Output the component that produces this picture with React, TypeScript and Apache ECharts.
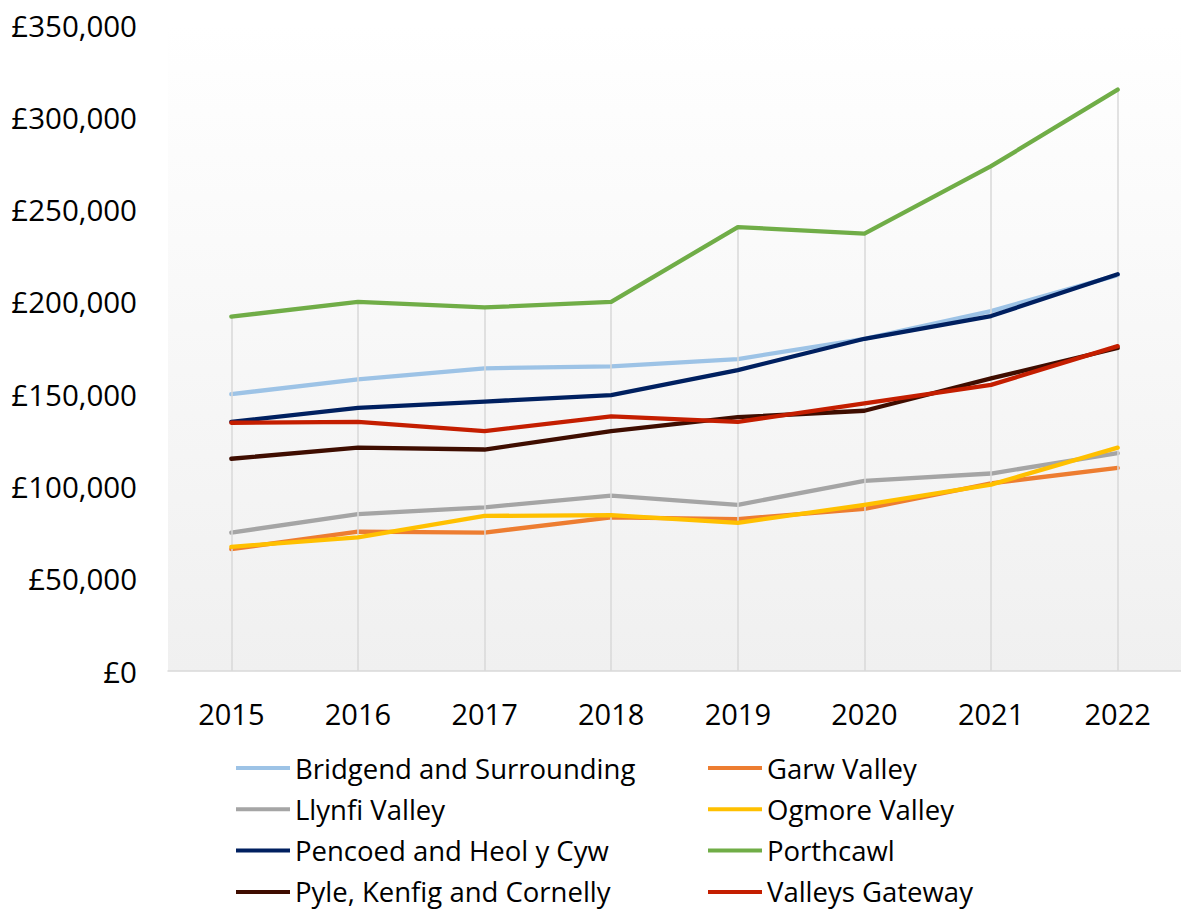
import React, { useEffect, useRef } from "react";
import * as echarts from "echarts";

const years = ["2015", "2016", "2017", "2018", "2019", "2020", "2021", "2022"];

const bridgend = [150000, 158000, 164000, 165000, 169000, 180000, 195000, 214500];
const garw = [66000, 75500, 75000, 83200, 82300, 87800, 101700, 110000];
const llynfi = [75000, 85000, 88700, 95000, 90000, 103000, 107000, 118000];
const ogmore = [67300, 72400, 84000, 84500, 80300, 90000, 101000, 121000];
const pencoed = [135000, 142600, 146000, 149500, 163000, 180000, 192300, 215000];
const porthcawl = [192000, 200000, 197000, 200000, 240500, 237000, 273500, 315000];
const pyle = [115000, 121000, 120000, 130000, 137500, 141000, 158500, 175000];
const valleys = [134500, 135000, 130000, 138000, 135000, 145000, 155000, 176000];

const seriesNames = [
  "Bridgend and Surrounding",
  "Garw Valley",
  "Llynfi Valley",
  "Ogmore Valley",
  "Pencoed and Heol y Cyw",
  "Porthcawl",
  "Pyle, Kenfig and Cornelly",
  "Valleys Gateway",
];
const seriesData = [bridgend, garw, llynfi, ogmore, pencoed, porthcawl, pyle, valleys];
const seriesColors = ["#9dc3e6", "#ed7d31", "#a5a5a5", "#ffc000", "#002060", "#70ad47", "#3f0d00", "#c41e00"];

const legendLeft = [seriesNames[0], seriesNames[2], seriesNames[4], seriesNames[6]];
const legendRight = [seriesNames[1], seriesNames[3], seriesNames[5], seriesNames[7]];

const FONT = "Open Sans";

function fmt(v: number): string {
  return "£" + String(v).replace(/\B(?=(\d{3})+(?!\d))/g, ",");
}

export default function App() {
  const ref = useRef<HTMLDivElement>(null);
  useEffect(() => {
    if (!ref.current) return;
    const chart = echarts.init(ref.current, null, { renderer: "svg" });
    const legendText = { fontFamily: FONT, fontSize: 27.5, color: "#000", lineHeight: 28 };
    const legendBase = {
      orient: "vertical",
      top: 754,
      height: 160,
      padding: 0,
      icon: "rect",
      itemWidth: 54,
      itemHeight: 4,
      itemGap: 13.3,
      textStyle: legendText,
    };
    const option: any = {
      animation: false,
      backgroundColor: "#ffffff",
      grid: {
        left: 168,
        right: -2,
        top: 25,
        bottom: 239,
        show: true,
        borderWidth: 0,
        backgroundColor: new echarts.graphic.LinearGradient(0, 0, 0, 1, [
          { offset: 0, color: "#ffffff" },
          { offset: 1, color: "#f0f0f0" },
        ]),
      },
      legend: [
        { ...legendBase, left: 236, data: legendLeft },
        { ...legendBase, left: 708, data: legendRight },
      ],
      xAxis: {
        type: "category",
        data: years,
        boundaryGap: true,
        axisLine: { show: true, lineStyle: { color: "#d9d9d9", width: 1.5 } },
        axisTick: { show: false },
        splitLine: { show: false },
        axisLabel: { color: "#000", fontFamily: FONT, fontSize: 29, margin: 28 },
      },
      yAxis: {
        type: "value",
        min: 0,
        max: 350000,
        interval: 50000,
        axisLine: { show: false },
        axisTick: { show: false },
        splitLine: { show: false },
        axisLabel: {
          color: "#000",
          fontFamily: FONT,
          fontSize: 29.5,
          margin: 31,
          formatter: (v: number) => fmt(v),
        },
      },
      series: [
        {
          name: "_drop",
          type: "line",
          data: porthcawl,
          symbol: "none",
          lineStyle: { opacity: 0 },
          silent: true,
          z: 1,
          markLine: {
            silent: true,
            symbol: ["none", "none"],
            label: { show: false },
            lineStyle: { color: "#d9d9d9", type: "solid", width: 1.5 },
            data: porthcawl.map((v, i) => [
              { coord: [years[i], v] },
              { coord: [years[i], 0] },
            ]),
          },
        },
        ...seriesNames.map((n, i) => ({
          name: n,
          type: "line",
          data: seriesData[i],
          symbol: "none",
          z: 2 + i,
          lineStyle: { color: seriesColors[i], width: 4.3, cap: "round", join: "round" },
          itemStyle: { color: seriesColors[i] },
        })),
      ],
    };
    chart.setOption(option);
    return () => chart.dispose();
  }, []);
  return (
    <div
      ref={ref}
      style={{ position: "absolute", left: 0, top: 0, width: 1181, height: 910 }}
    />
  );
}
